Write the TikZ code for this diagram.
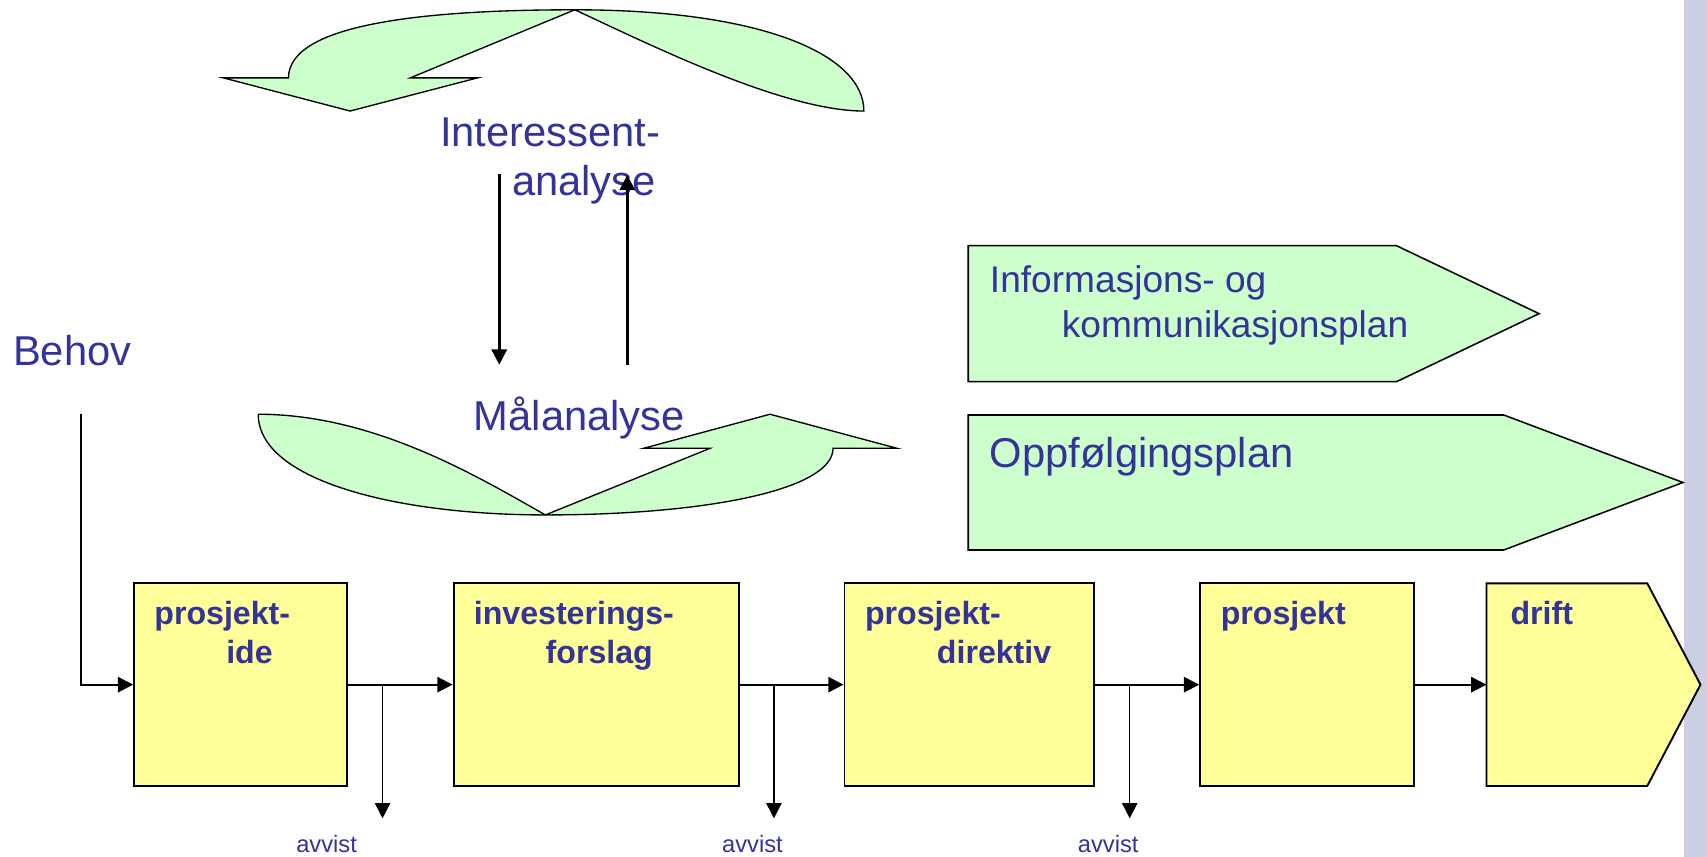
\documentclass[tikz,border=0pt]{standalone}
\usepackage{fontspec}
\setmainfont{Liberation Sans}
\usepackage{xcolor}
\usepackage{tikz}
\usetikzlibrary{arrows.meta, positioning}

\definecolor{tekstblaa}{RGB}{51,51,153}
\definecolor{gronn}{RGB}{204,255,204}
\definecolor{gul}{RGB}{255,255,153}
\definecolor{stripe}{RGB}{203,207,227}
\newcommand{\innrykk}{\hspace*{1.32cm}}

\tikzset{
  stor/.style={text=tekstblaa, font=\fontsize{21.8pt}{25.5pt}\selectfont, inner sep=0pt, anchor=base west, align=left},
  plan/.style={stor, font=\fontsize{19.4pt}{23.6pt}\selectfont},
  fase/.style={stor, font=\fontsize{16.8pt}{20.3pt}\selectfont\bfseries},
  liten/.style={stor, font=\fontsize{12.4pt}{14pt}\selectfont},
  boks/.style={draw, fill=gul, line width=1pt, inner sep=0pt, minimum height=3.724cm},
  sirkel/.style={draw, fill=gronn, line width=0.7pt},
  pil/.style={-{Triangle[length=2.8mm,width=2.8mm]}, line width=1.1pt},
  gren/.style={pil, line width=0.8pt}
}

\begin{document}
\begin{tikzpicture}[x=0.02cm, y=-0.02cm]
\useasboundingbox (0,0) rectangle (1568,787);
\fill[white] (0,0) rectangle (1568,787);
\fill[stripe] (1546.5,0) rectangle (1568,787);

% kretslop
\draw[sirkel] (265,71.5) .. controls (265,20) and (400,9) .. (528,9)
  .. controls (700,9) and (793.5,50) .. (793.5,102)
  .. controls (719,102) and (595,40) .. (528,9)
  -- (377,71.5) -- (438.8,71.5) -- (321.6,102) -- (205,71.5) -- cycle;
\draw[sirkel] (237.2,380.5) .. controls (237.2,440.9) and (362.8,473) .. (501,473)
  .. controls (648.3,473) and (765.2,450) .. (765.2,411.8)
  -- (824,411.8) -- (707.3,380.5) -- (591.2,411.8) -- (652.2,411.8) -- (501,473)
  .. controls (439,438) and (344,380.5) .. (237.2,380.5) -- cycle;

% planer
\draw[sirkel, line width=0.8pt] (889.4,225.7) -- (1282.8,225.7) -- (1413.7,288.1)
  -- (1282.8,350.6) -- (889.4,350.6) -- cycle;
\draw[sirkel, line width=0.8pt] (889.4,381.2) -- (1381.3,381.2) -- (1545.9,443.2)
  -- (1381.3,505.2) -- (889.4,505.2) -- cycle;

% base = siste linje
\node[stor] (behov) at (11.6,335.3) {Behov};
\node[stor] (interessent) at (404,179.5) {Interessent-\\\innrykk analyse};
\node[stor] (maal) at (435,395) {Målanalyse};
\node[plan] (info) at (909,310.2) {Informasjons- og\\\innrykk kommunikasjonsplan};
\node[stor] (oppfolging) at (909,429.6) {Oppfølgingsplan};

% faser
\node[boks, minimum width=3.918cm] (ide) at (221.15,628.9) {};
\node[boks, minimum width=5.238cm] (forslag) at (547.55,628.9) {};
\node[boks, minimum width=4.59cm] (direktiv) at (890.45,628.9) {};
\node[boks, minimum width=3.932cm] (prosjekt) at (1200.7,628.9) {};
\draw[boks] (1365.4,535.8) -- (1513.1,535.8) -- (1562,628.9) -- (1513.1,722)
  -- (1365.4,722) -- cycle;
\coordinate (drift) at (1365.4,628.9);

\node[fase] (ideTxt) at (141.5,609.3) {prosjekt-\\\innrykk ide};
\node[fase] (forslagTxt) at (434.9,609.3) {investerings-\\\innrykk forslag};
\node[fase] (direktivTxt) at (794.3,609.3) {prosjekt-\\\innrykk direktiv};
\node[fase] (prosjektTxt) at (1121,573.5) {prosjekt};
\node[fase] (driftTxt) at (1387.2,573.5) {drift};

\node[liten] (avvistA) at (271.8,783.2) {avvist};
\node[liten] (avvistB) at (663,783.2) {avvist};
\node[liten] (avvistC) at (989.8,783.2) {avvist};

% piler
\coordinate (behovfot) at (74.4,380.3);
\coordinate (ned1) at (458.6,160);
\coordinate (ned2) at (458.6,335);
\coordinate (opp1) at (576.2,335);
\coordinate (opp2) at (576.2,160.7);
\coordinate (gren1) at (351.4,751.7);
\coordinate (gren2) at (710.9,751.7);
\coordinate (gren3) at (1037.7,751.7);

\draw[pil, line width=1.3pt] (ned1) -- (ned2);
\draw[pil, line width=1.3pt] (opp1) -- (opp2);
\draw[pil] (behovfot) |- (ide);
\draw[pil] (ide) -- (forslag);
\draw[pil] (forslag) -- (direktiv);
\draw[pil] (direktiv) -- (prosjekt);
\draw[pil] (prosjekt) -- (drift);
\draw[gren] (gren1 |- ide) -- (gren1);
\draw[gren] (gren2 |- ide) -- (gren2);
\draw[gren] (gren3 |- ide) -- (gren3);
\end{tikzpicture}
\end{document}
